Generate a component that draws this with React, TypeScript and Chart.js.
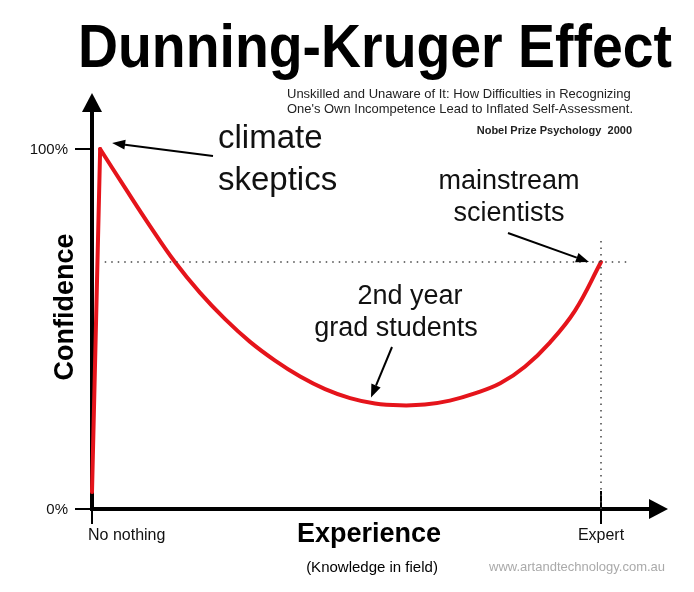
import React, { useEffect, useRef } from "react";
import { Chart, registerables } from "chart.js";

Chart.register(...registerables);

// Data
const riseX = [0, 1.6];
const riseY = [4.7, 100];
const curveX = [1.6, 6.5, 11.4, 16.3, 21.2, 26.1, 31.0, 35.9, 40.9, 45.8, 50.7, 55.6, 60.5, 65.4, 70.3, 75.2, 80.2, 85.1, 90.0, 94.9, 100];
const curveY = [100, 89.2, 78.6, 68.6, 60.1, 52.8, 46.5, 41.3, 36.8, 33.3, 30.8, 29.3, 28.8, 29.0, 30.1, 32.1, 34.9, 39.6, 46.3, 55.1, 68.6];
const expertLevel = 68.6;
const xTickValues = [0, 100];
const xTickLabels = ["No nothing", "Expert"];
const yTickValues = [0, 100];
const yTickLabels = ["0%", "100%"];

const FONT = "'Liberation Sans', Arial, Helvetica, sans-serif";

const overlay = {
  id: "overlay",
  beforeDatasetsDraw(chart: any) {
    const ctx = chart.ctx;
    const xs = chart.scales.x;
    const ys = chart.scales.y;
    const x0 = xs.getPixelForValue(0);
    const y0 = ys.getPixelForValue(0);
    ctx.save();
    ctx.strokeStyle = "#000";
    ctx.fillStyle = "#000";
    ctx.lineWidth = 4;
    // y axis
    ctx.beginPath();
    ctx.moveTo(x0, y0 + 2);
    ctx.lineTo(x0, 108);
    ctx.stroke();
    ctx.beginPath();
    ctx.moveTo(x0, 93);
    ctx.lineTo(x0 - 10, 112);
    ctx.lineTo(x0 + 10, 112);
    ctx.closePath();
    ctx.fill();
    // x axis
    ctx.beginPath();
    ctx.moveTo(x0 - 2, y0);
    ctx.lineTo(652, y0);
    ctx.stroke();
    ctx.beginPath();
    ctx.moveTo(668, y0);
    ctx.lineTo(649, y0 - 10);
    ctx.lineTo(649, y0 + 10);
    ctx.closePath();
    ctx.fill();
    // ticks
    ctx.lineWidth = 2;
    yTickValues.forEach((v) => {
      const py = ys.getPixelForValue(v);
      ctx.beginPath();
      ctx.moveTo(x0 - 17, py);
      ctx.lineTo(x0, py);
      ctx.stroke();
    });
    xTickValues.forEach((v) => {
      const px = xs.getPixelForValue(v);
      ctx.beginPath();
      ctx.moveTo(px, y0 - (v === 0 ? 0 : 18));
      ctx.lineTo(px, y0 + 15);
      ctx.stroke();
    });
    // tick labels
    ctx.font = `15px ${FONT}`;
    ctx.textBaseline = "middle";
    ctx.textAlign = "right";
    ctx.fillStyle = "#111";
    yTickValues.forEach((v, i) => {
      ctx.fillText(yTickLabels[i], x0 - 24, ys.getPixelForValue(v) + 1);
    });
    ctx.font = `16px ${FONT}`;
    ctx.textBaseline = "alphabetic";
    xTickValues.forEach((v, i) => {
      const px = xs.getPixelForValue(v);
      ctx.textAlign = v === 0 ? "left" : "center";
      ctx.fillText(xTickLabels[i], v === 0 ? px - 4 : px, y0 + 31);
    });
    ctx.restore();
  },
  afterDatasetsDraw(chart: any) {
    const ctx = chart.ctx;
    const xs = chart.scales.x;
    const ys = chart.scales.y;
    ctx.save();
    ctx.fillStyle = "#000";
    // title
    ctx.font = `bold 62px ${FONT}`;
    ctx.textAlign = "left";
    ctx.textBaseline = "alphabetic";
    ctx.fillText("Dunning-Kruger Effect", 78, 67, 594);
    // subtitle
    ctx.font = `13px ${FONT}`;
    ctx.fillStyle = "#222";
    ctx.fillText("Unskilled and Unaware of It: How Difficulties in Recognizing", 287, 98, 346);
    ctx.fillText("One's Own Incompetence Lead to Inflated Self-Assessment.", 287, 113, 346);
    ctx.font = `bold 11px ${FONT}`;
    ctx.textAlign = "right";
    ctx.fillText("Nobel Prize Psychology  2000", 632, 134);
    // axis titles
    ctx.fillStyle = "#000";
    ctx.font = `bold 27px ${FONT}`;
    ctx.textAlign = "center";
    ctx.fillText("Experience", 369, 542);
    ctx.font = `15px ${FONT}`;
    ctx.fillText("(Knowledge in field)", 372, 572);
    ctx.save();
    ctx.translate(73, 307);
    ctx.rotate(-Math.PI / 2);
    ctx.font = `bold 27px ${FONT}`;
    ctx.fillText("Confidence", 0, 0);
    ctx.restore();
    // credit
    ctx.font = `13px ${FONT}`;
    ctx.fillStyle = "#aaa";
    ctx.textAlign = "left";
    ctx.fillText("www.artandtechnology.com.au", 489, 571, 178);
    // annotations
    ctx.fillStyle = "#111";
    ctx.font = `33px ${FONT}`;
    ctx.textAlign = "left";
    ctx.fillText("climate", 218, 148);
    ctx.fillText("skeptics", 218, 190);
    ctx.font = `27px ${FONT}`;
    ctx.textAlign = "center";
    ctx.fillText("mainstream", 509, 189);
    ctx.fillText("scientists", 509, 221);
    ctx.fillText("2nd year", 410, 304);
    ctx.fillText("grad students", 396, 336);
    // arrows
    const arrow = (x1: number, y1: number, x2: number, y2: number) => {
      const a = Math.atan2(y2 - y1, x2 - x1);
      const hl = 13;
      const hw = 5;
      const bx = x2 - hl * Math.cos(a);
      const by = y2 - hl * Math.sin(a);
      ctx.strokeStyle = "#000";
      ctx.fillStyle = "#000";
      ctx.lineWidth = 2;
      ctx.beginPath();
      ctx.moveTo(x1, y1);
      ctx.lineTo(bx, by);
      ctx.stroke();
      ctx.beginPath();
      ctx.moveTo(x2, y2);
      ctx.lineTo(bx + hw * Math.sin(a), by - hw * Math.cos(a));
      ctx.lineTo(bx - hw * Math.sin(a), by + hw * Math.cos(a));
      ctx.closePath();
      ctx.fill();
    };
    arrow(213, 156, xs.getPixelForValue(curveX[0]) + 12, ys.getPixelForValue(100) - 6);
    arrow(508, 233, xs.getPixelForValue(100) - 12, ys.getPixelForValue(expertLevel));
    arrow(392, 347, 371, ys.getPixelForValue(29.3) - 6);
    ctx.restore();
  },
};

export default function App() {
  const ref = useRef<HTMLCanvasElement | null>(null);
  useEffect(() => {
    document.body.style.margin = "0";
    const canvas = ref.current;
    if (!canvas) return;
    const chart = new Chart(canvas, {
      type: "line",
      data: {
        datasets: [
          {
            label: "level",
            data: [
              { x: 2.5, y: expertLevel },
              { x: 105, y: expertLevel },
            ],
            borderColor: "#444",
            borderWidth: 1.5,
            borderDash: [1.5, 5],
            pointRadius: 0,
            clip: false as any,
          },
          {
            label: "expert",
            data: [
              { x: 100, y: 0 },
              { x: 100, y: 74.7 },
            ],
            borderColor: "#444",
            borderWidth: 1.5,
            borderDash: [1.5, 5],
            pointRadius: 0,
            clip: false as any,
          },
          {
            label: "rise",
            data: riseX.map((x, i) => ({ x, y: riseY[i] })),
            borderColor: "#e5141b",
            borderWidth: 4,
            borderCapStyle: "round",
            borderJoinStyle: "round",
            pointRadius: 0,
            tension: 0,
            clip: false as any,
          },
          {
            label: "curve",
            data: curveX.map((x, i) => ({ x, y: curveY[i] })),
            borderColor: "#e5141b",
            borderWidth: 4,
            borderCapStyle: "round",
            borderJoinStyle: "round",
            pointRadius: 0,
            tension: 0.4,
            clip: false as any,
          },
        ],
      },
      options: {
        animation: false,
        responsive: false,
        events: [],
        layout: { padding: { left: 92, right: 93, top: 149, bottom: 83 } },
        plugins: { legend: { display: false }, tooltip: { enabled: false } },
        scales: {
          x: { type: "linear", min: 0, max: 100, display: false },
          y: { type: "linear", min: 0, max: 100, display: false },
        },
      },
      plugins: [overlay],
    });
    return () => chart.destroy();
  }, []);
  return (
    <div style={{ position: "absolute", left: 0, top: 0, width: 694, height: 592, background: "#fff" }}>
      <canvas ref={ref} width={694} height={592} style={{ display: "block", width: 694, height: 592 }} />
    </div>
  );
}
